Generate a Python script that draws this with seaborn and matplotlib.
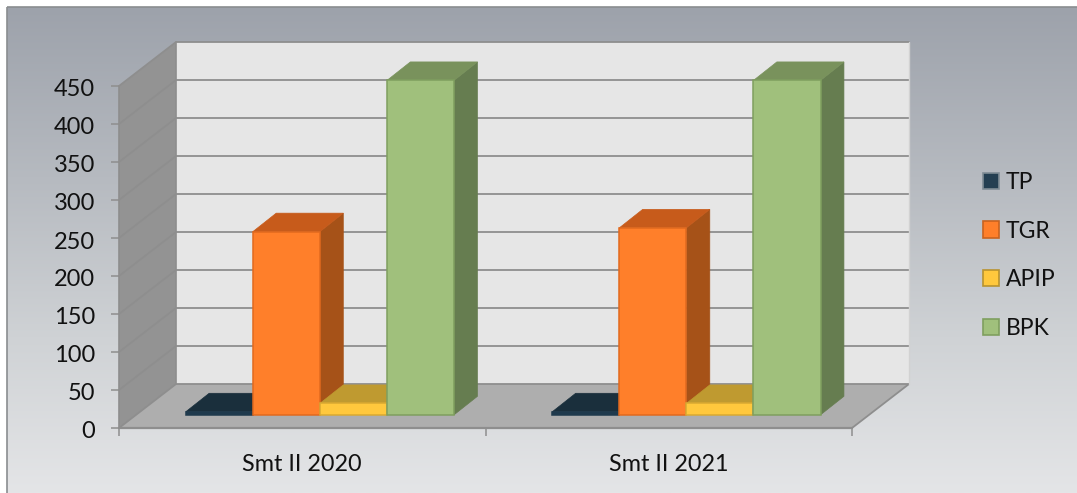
import numpy as np
import pandas as pd
import matplotlib
matplotlib.use("Agg")
import matplotlib.pyplot as plt
from matplotlib.patches import Polygon, Patch, Rectangle
from matplotlib.transforms import ScaledTranslation
import seaborn as sns

categories = ["Smt II 2020", "Smt II 2021"]
series_names = ["TP", "TGR", "APIP", "BPK"]
tp_values = [4, 4]
tgr_values = [241, 246]
apip_values = [15, 15]
bpk_values = [440, 440]
y_ticks = list(range(0, 451, 50))

FRONT = ["#1F3A4D", "#FF7F2A", "#FFC83D", "#A0C07C"]
EDGE = ["#1F3A4D", "#E2691E", "#D9A932", "#7F9F5F"]
TOP = ["#1A2F3C", "#C75B1B", "#BF9A30", "#79925C"]
SIDE = ["#16262F", "#A65218", "#9A7B26", "#667D50"]
LEGEND_FACE = ["#243F52", "#FF7F2A", "#FFC83D", "#A0C07C"]
LEGEND_EDGE = ["#7F8C95", "#C9631F", "#B8932F", "#7F9F5F"]

sns.set_style("white")
plt.rcParams["font.family"] = ["Lato", "DejaVu Sans"]

W, H = 1077, 493
fig = plt.figure(figsize=(W / 100, H / 100), dpi=100, facecolor="white")

# gradient chart area
bg = fig.add_axes([0, 0, 1, 1], zorder=0)
bg.set_xlim(0, W)
bg.set_ylim(H, 0)
bg.axis("off")
stops = np.array([[0x9D, 0xA2, 0xAB], [0xB6, 0xBA, 0xC0], [0xCF, 0xD2, 0xD5], [0xE4, 0xE5, 0xE7]]) / 255
t = np.linspace(0, 1, 256)
grad = np.stack([np.interp(t, [0, .35, .68, 1], stops[:, i]) for i in range(3)], axis=1)[:, None, :]
bg.imshow(grad, extent=[7, W, H, 7], aspect="auto", interpolation="bilinear")
bg.set_xlim(0, W)
bg.set_ylim(H, 0)
bg.add_patch(Rectangle((7, 7), W, H, fill=False, ec="#8A8D90", lw=1.2))

# main plane
x0, x1, ytop, ybot = 119, 852, 86, 428
ax = fig.add_axes([x0 / W, 1 - ybot / H, (x1 - x0) / W, (ybot - ytop) / H], zorder=1)
ax.patch.set_visible(False)

df = pd.DataFrame({
    "cat": categories * 4,
    "series": sum([[n] * 2 for n in series_names], []),
    "value": tp_values + tgr_values + apip_values + bpk_values,
})
sns.barplot(data=df, x="cat", y="value", hue="series", hue_order=series_names,
            palette=FRONT, width=0.732, gap=0, legend=False, ax=ax, saturation=1)
ax.set_xlim(-0.5, 1.5)
ax.set_ylim(0, 450)
ax.set_xlabel("")
ax.set_ylabel("")

# depth expressed in data units
DX = 57 / ((x1 - x0) / 2)
DY = 44 / ((ybot - ytop) / 450)
D_FRONT, D_BACK = 0.31, 0.72


def pt(x, y, d):
    return (x + d * DX, y + d * DY)


xl, xr = -0.5, 1.5
wall = dict(clip_on=False, lw=0)
ax.add_patch(Polygon([pt(xl, 0, 1), pt(xr, 0, 1), pt(xr, 450, 1), pt(xl, 450, 1)], fc="#E6E6E6", zorder=1, **wall))
ax.add_patch(Polygon([pt(xl, 0, 0), pt(xr, 0, 0), pt(xr, 0, 1), pt(xl, 0, 1)], fc="#AEAEAE", zorder=1, **wall))
ax.add_patch(Polygon([pt(xl, 0, 0), pt(xl, 0, 1), pt(xl, 450, 1), pt(xl, 450, 0)], fc="#939393", zorder=1, **wall))

grid_c = "#8E8E8E"
for v in y_ticks:
    a, b, c = pt(xl, v, 0), pt(xl, v, 1), pt(xr, v, 1)
    ax.plot([a[0], b[0], c[0]], [a[1], b[1], c[1]], color=grid_c, lw=1.3, clip_on=False, zorder=2,
            solid_joinstyle="miter")
a, b = pt(xl, 0, 1), pt(xl, 450, 1)
ax.plot([a[0], b[0]], [a[1], b[1]], color=grid_c, lw=1.2, clip_on=False, zorder=2)
a, b = pt(xl, 0, 0), pt(xl, 450, 0)
ax.plot([a[0], b[0]], [a[1], b[1]], color=grid_c, lw=1.2, clip_on=False, zorder=2)
a, b = pt(xr, 0, 0), pt(xr, 0, 1)
ax.plot([a[0], b[0]], [a[1], b[1]], color=grid_c, lw=1.3, clip_on=False, zorder=2)
a, b = pt(xr, 0, 1), pt(xr, 450, 1)
ax.plot([a[0], b[0]], [a[1], b[1]], color="#D2D2D2", lw=1.0, clip_on=False, zorder=2)
ax.plot([xl, xr], [0, 0], color=grid_c, lw=1.6, clip_on=False, zorder=2)

# 3-D extrusion of each seaborn bar
for i, cont in enumerate(ax.containers):
    for bar in cont:
        bx, bw, bh = bar.get_x(), bar.get_width(), bar.get_height()
        z = 10 + i * 2
        bar.set_x(bx + D_FRONT * DX)
        bar.set_y(0.3 * DY)
        bar.set_edgecolor(EDGE[i])
        bar.set_linewidth(1.1)
        bar.set_clip_on(False)
        bar.set_zorder(z + 1)
        fy = 0.3 * DY
        side = [(bx + bw + D_FRONT * DX, fy), pt(bx + bw, 0, D_BACK), pt(bx + bw, bh, D_BACK),
                (bx + bw + D_FRONT * DX, fy + bh)]
        top = [(bx + D_FRONT * DX, fy + bh), (bx + bw + D_FRONT * DX, fy + bh),
               pt(bx + bw, bh, D_BACK), pt(bx, bh, D_BACK)]
        ax.add_patch(Polygon(side, fc=SIDE[i], ec=SIDE[i], lw=0.5, clip_on=False, zorder=z))
        ax.add_patch(Polygon(top, fc=TOP[i], ec=TOP[i], lw=0.5, clip_on=False, zorder=z))

# axes furniture
sns.despine(ax=ax, left=True, bottom=True, top=True, right=True)
ax.set_yticks(y_ticks)
ax.set_xticks([-0.5, 0.5, 1.5], labels=[])
ax.set_xticks([0, 1], labels=categories, minor=True)
ax.tick_params(axis="y", which="major", left=True, length=5.8, width=1.1, color=grid_c, pad=11.5,
               labelsize=17, labelcolor="#111111")
ax.tick_params(axis="x", which="major", bottom=True, length=5.8, width=1.1, color=grid_c)
ax.tick_params(axis="x", which="minor", bottom=False, pad=16.5, labelsize=16.8, labelcolor="#111111")
shift = ScaledTranslation(0, -2 / 100, fig.dpi_scale_trans)
for lab in ax.get_yticklabels():
    lab.set_transform(lab.get_transform() + shift)

# legend
handles = [Patch(facecolor=f, edgecolor=e, linewidth=1.2, label=n)
           for f, e, n in zip(LEGEND_FACE, LEGEND_EDGE, series_names)]
fig.legend(handles=handles, loc="center left", bbox_to_anchor=(983 / W, 1 - 255.5 / H), frameon=False,
           fontsize=16.5, handlelength=0.7, handleheight=0.7, handletextpad=0.28,
           labelspacing=1.22, labelcolor="#111111", borderpad=0, borderaxespad=0)

fig.savefig("out.png", dpi=100)
